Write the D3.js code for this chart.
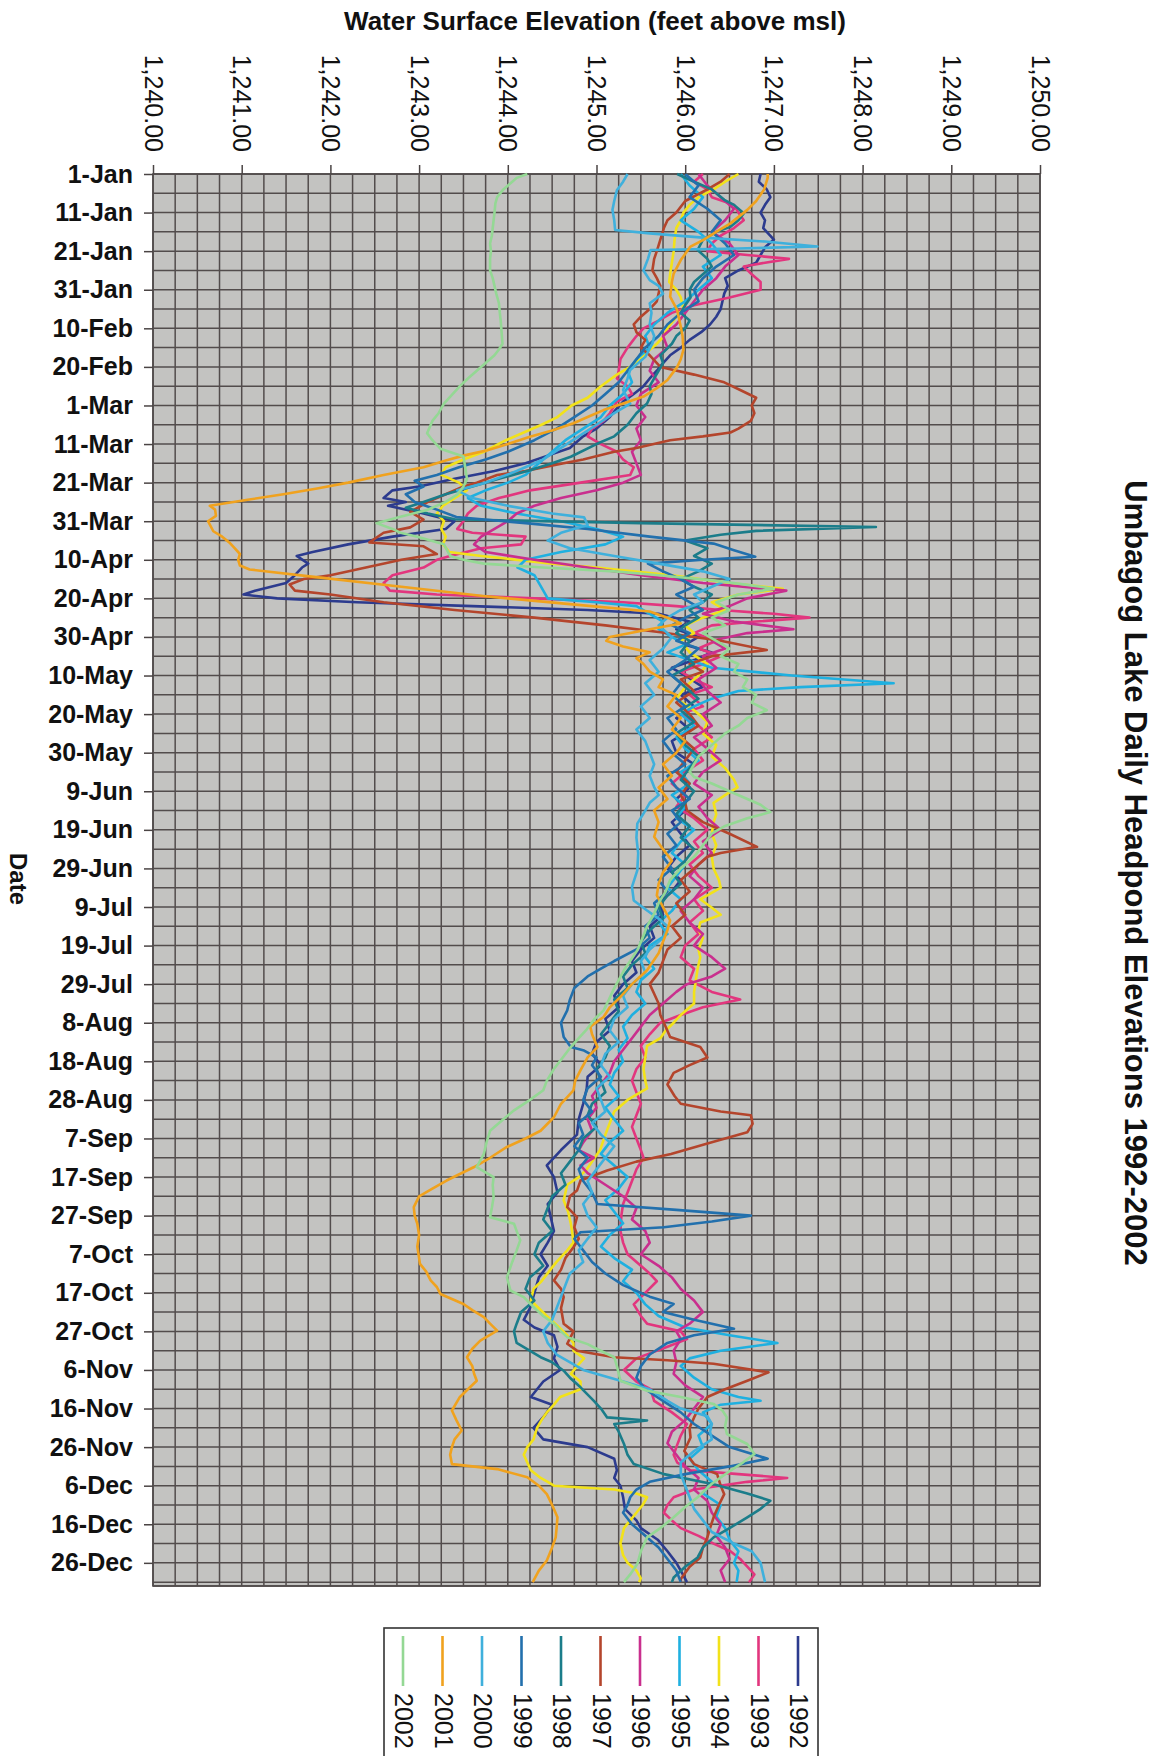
<!DOCTYPE html>
<html lang="en">

<head>
  <meta charset="utf-8" />
  <title>Umbagog Lake Daily Headpond Elevations 1992-2002</title>
  <style>
    body {
      margin: 0;
      background: #fff;
      font-family: "Liberation Sans", Arial, Helvetica, sans-serif;
    }

    .plot-bg {
      fill: #c3c3c1;
      stroke: #4a4444;
      stroke-width: 1.6px;
    }

    .grid-line {
      stroke: #524c4c;
      stroke-width: 1.5px;
    }

    .axis path {
      display: none;
    }

    .axis line {
      stroke: #4a4444;
      stroke-width: 1.5px;
    }

    .xaxis text {
      font-size: 25px;
      fill: #111;
    }

    .yaxis text {
      font-size: 25px;
      font-weight: bold;
      fill: #111;
    }

    .series-line {
      fill: none;
      stroke-width: 2.6px;
      stroke-linejoin: round;
    }

    .axis-title {
      font-weight: bold;
      fill: #111;
    }

    .legend-box {
      fill: #fff;
      stroke: #333;
      stroke-width: 1.6px;
    }

    .legend-text {
      font-size: 25px;
      fill: #111;
    }
  </style>
</head>

<body>
  <script src="https://cdn.jsdelivr.net/npm/d3@7"></script>
  <script>
    // ---- data: [day of year (0 = 1-Jan), elevation in feet] ----
    var years = [1992, 1993, 1994, 1995, 1996, 1997, 1998, 1999, 2000, 2001, 2002];

    var dateTickLabels = ["1-Jan", "11-Jan", "21-Jan", "31-Jan", "10-Feb", "20-Feb", "1-Mar", "11-Mar", "21-Mar",
      "31-Mar", "10-Apr", "20-Apr", "30-Apr", "10-May", "20-May", "30-May", "9-Jun", "19-Jun", "29-Jun", "9-Jul",
      "19-Jul", "29-Jul", "8-Aug", "18-Aug", "28-Aug", "7-Sep", "17-Sep", "27-Sep", "7-Oct", "17-Oct", "27-Oct",
      "6-Nov", "16-Nov", "26-Nov", "6-Dec", "16-Dec", "26-Dec"];

    var elevationTicks = [1240, 1241, 1242, 1243, 1244, 1245, 1246, 1247, 1248, 1249, 1250];

    var y1992 = [[0,1246.85],[2,1246.83],[4,1246.92],[6,1246.96],[8,1246.9],[10,1246.85],[12,1246.9],[14,1246.88],[17,1247.0],[19,1246.9],[21,1246.85],[23,1246.8],[25,1246.6],[27,1246.45],[29,1246.48],[31,1246.44],[33,1246.42],[35,1246.4],[37,1246.35],[39,1246.28],[41,1246.18],[43,1246.05],[45,1245.95],[47,1245.83],[49,1245.75],[51,1245.68],[53,1245.6],[55,1245.53],[57,1245.42],[59,1245.3],[61,1245.22],[63,1245.15],[66,1245.0],[68,1244.85],[71,1244.7],[73,1244.45],[75,1244.2],[77,1243.85],[79,1243.4],[81,1243.0],[82,1242.7],[84,1242.6],[85,1242.85],[86,1242.65],[88,1243.05],[90,1243.4],[92,1243.3],[94,1242.7],[96,1242.2],[98,1241.8],[99,1241.62],[101,1241.75],[102,1241.68],[104,1241.6],[106,1241.5],[108,1241.15],[109,1241.02],[110,1241.4],[111,1242.3],[112,1243.6],[113,1244.9],[114,1245.7],[116,1246.05],[118,1245.9],[120,1246.15],[122,1246.0],[124,1246.3],[126,1246.1],[128,1245.85],[130,1246.0],[133,1246.2],[135,1245.95],[138,1246.1],[141,1245.9],[144,1246.05],[147,1245.85],[150,1245.9],[153,1246.1],[156,1245.95],[159,1246.05],[162,1245.9],[165,1246.0],[168,1245.85],[171,1245.95],[174,1246.05],[177,1245.9],[180,1245.8],[183,1245.95],[186,1245.85],[189,1245.7],[192,1245.75],[195,1245.6],[198,1245.65],[201,1245.5],[204,1245.4],[207,1245.45],[210,1245.3],[213,1245.2],[216,1245.25],[219,1245.1],[222,1245.15],[225,1245.0],[228,1244.95],[231,1245.05],[234,1244.9],[237,1244.89],[241,1244.85],[245,1244.8],[249,1244.78],[253,1244.6],[257,1244.44],[260,1244.52],[264,1244.56],[267,1244.45],[270,1244.48],[274,1244.52],[277,1244.45],[280,1244.37],[283,1244.45],[286,1244.35],[290,1244.3],[294,1244.25],[297,1244.18],[299,1244.3],[301,1244.52],[304,1244.56],[307,1244.52],[310,1244.59],[313,1244.4],[317,1244.26],[319,1244.5],[322,1244.41],[325,1244.29],[328,1244.4],[330,1244.9],[333,1245.2],[336,1245.23],[338,1245.2],[340,1245.27],[343,1245.3],[346,1245.32],[349,1245.45],[351,1245.5],[354,1245.69],[357,1245.8],[360,1245.9],[362,1245.95],[365,1246.02]];

    var y1993 = [[0,1246.2],[2,1246.1],[4,1246.25],[6,1246.3],[8,1246.55],[10,1246.6],[12,1246.66],[14,1246.55],[16,1246.4],[18,1246.3],[20,1246.25],[21,1246.7],[22,1247.17],[23,1246.9],[24,1246.66],[26,1246.75],[28,1246.85],[30,1246.85],[32,1246.5],[34,1246.1],[36,1245.85],[38,1245.7],[40,1245.53],[42,1245.45],[45,1245.35],[48,1245.27],[51,1245.25],[53,1245.23],[55,1245.35],[57,1245.4],[59,1245.23],[62,1245.15],[64,1245.08],[66,1244.95],[68,1244.9],[70,1245.05],[72,1245.23],[74,1245.3],[76,1245.42],[78,1245.38],[80,1244.82],[82,1244.25],[84,1243.9],[86,1243.65],[88,1243.55],[90,1243.5],[92,1243.43],[93,1243.6],[94,1244.2],[96,1244.15],[97,1243.7],[99,1243.35],[100,1243.2],[102,1243.05],[104,1242.7],[106,1242.6],[108,1242.67],[109,1243.2],[110,1244.3],[111,1245.3],[112,1245.9],[113,1246.4],[114,1247.0],[115,1247.4],[116,1246.8],[117,1246.3],[119,1246.1],[121,1246.35],[123,1246.15],[125,1246.4],[127,1246.2],[129,1245.95],[131,1246.1],[133,1246.3],[135,1246.05],[138,1246.2],[140,1245.95],[143,1246.15],[146,1246.3],[149,1246.1],[152,1246.2],[155,1246.0],[158,1245.85],[161,1246.0],[164,1245.9],[167,1246.1],[170,1246.25],[173,1246.1],[176,1246.2],[179,1246.05],[182,1246.15],[185,1246.3],[188,1246.1],[191,1246.2],[194,1246.05],[197,1246.15],[200,1246.0],[203,1245.95],[206,1246.1],[209,1246.05],[212,1246.3],[214,1246.62],[216,1246.2],[218,1245.95],[220,1245.72],[223,1245.6],[226,1245.5],[229,1245.55],[232,1245.45],[235,1245.4],[238,1245.45],[241,1245.5],[244,1245.45],[247,1245.4],[250,1245.45],[253,1245.5],[255,1245.53],[258,1245.45],[261,1245.4],[264,1245.35],[267,1245.3],[270,1245.28],[274,1245.27],[277,1245.3],[280,1245.35],[283,1245.5],[285,1245.6],[287,1245.68],[290,1245.55],[293,1245.42],[296,1245.5],[298,1245.57],[300,1245.95],[302,1246.02],[304,1245.8],[307,1245.45],[310,1245.31],[313,1245.45],[315,1245.61],[318,1245.65],[321,1245.85],[324,1246.02],[327,1245.95],[330,1245.9],[332,1245.87],[334,1245.91],[336,1246.06],[337,1246.6],[338,1247.15],[339,1246.7],[341,1246.1],[343,1245.87],[345,1245.8],[347,1245.76],[349,1245.85],[351,1245.95],[353,1246.15],[355,1246.32],[357,1246.51],[359,1246.62],[361,1246.7],[363,1246.78],[365,1246.72]];

    var y1994 = [[0,1246.6],[2,1246.45],[4,1246.32],[6,1246.15],[8,1246.05],[10,1245.98],[12,1245.95],[14,1245.9],[17,1245.88],[20,1245.87],[23,1245.85],[26,1245.83],[28,1245.82],[30,1245.9],[32,1245.95],[35,1245.98],[37,1245.9],[40,1245.8],[42,1245.76],[44,1245.68],[47,1245.53],[50,1245.38],[52,1245.23],[55,1245.05],[58,1244.9],[60,1244.72],[63,1244.56],[65,1244.38],[67,1244.18],[69,1243.98],[72,1243.73],[74,1243.5],[76,1243.3],[78,1243.25],[80,1243.45],[82,1243.54],[84,1243.4],[86,1243.27],[88,1243.2],[90,1243.28],[92,1243.25],[94,1243.3],[96,1243.27],[98,1243.34],[99,1243.7],[101,1244.5],[102,1245.0],[104,1245.85],[106,1246.5],[107.5,1247.1],[109,1246.6],[111,1246.3],[113,1246.45],[115,1246.2],[117,1246.0],[119,1246.1],[121,1245.95],[124,1246.05],[127,1246.25],[130,1246.15],[133,1246.0],[136,1245.9],[139,1246.1],[142,1246.25],[145,1246.2],[148,1246.35],[151,1246.3],[154,1246.45],[157,1246.55],[159,1246.59],[161,1246.45],[163,1246.32],[166,1246.35],[168,1246.32],[171,1246.3],[174,1246.35],[177,1246.3],[180,1246.32],[183,1246.38],[185,1246.4],[187,1246.25],[188,1246.17],[190,1246.29],[192,1246.4],[194,1246.17],[196,1246.15],[198,1246.2],[201,1246.15],[203,1246.17],[206,1246.14],[209,1246.12],[212,1246.1],[215,1246.1],[218,1245.95],[220,1245.87],[222,1245.78],[224,1245.72],[226,1245.57],[229,1245.55],[232,1245.53],[235,1245.55],[237,1245.57],[240,1245.35],[243,1245.2],[246,1245.15],[249,1245.1],[253,1245.04],[256,1244.95],[258,1244.89],[260,1244.8],[262,1244.67],[264,1244.65],[266,1244.63],[269,1244.68],[272,1244.71],[275,1244.73],[277,1244.74],[279,1244.67],[282,1244.55],[284,1244.48],[287,1244.38],[289,1244.29],[292,1244.26],[294,1244.35],[296,1244.44],[299,1244.58],[301,1244.67],[303,1244.74],[305,1244.74],[307,1244.86],[309,1244.78],[311,1244.71],[313,1244.82],[315,1244.82],[317,1244.59],[319,1244.52],[321,1244.44],[323,1244.38],[325,1244.33],[328,1244.29],[330,1244.22],[332,1244.18],[334,1244.22],[336,1244.26],[338,1244.37],[339,1244.45],[340,1244.52],[341,1245.2],[342,1245.45],[343,1245.57],[345,1245.52],[347,1245.45],[349,1245.38],[351,1245.31],[353,1245.29],[355,1245.27],[358,1245.3],[360,1245.35],[362,1245.45],[364,1245.5],[365,1245.48]];

    var y1995 = [[0,1245.95],[3,1246.05],[6,1246.2],[9,1246.1],[12,1245.95],[15,1246.15],[18,1246.3],[21,1246.4],[24,1246.2],[27,1246.3],[30,1246.15],[33,1246.0],[36,1245.8],[39,1245.65],[42,1245.55],[45,1245.6],[48,1245.45],[51,1245.35],[54,1245.4],[57,1245.3],[60,1245.15],[63,1245.05],[66,1244.85],[69,1244.65],[72,1244.5],[75,1244.35],[78,1244.2],[80,1244.0],[82,1243.75],[84,1243.55],[86,1243.7],[88,1244.1],[90,1244.6],[92,1245.0],[94,1245.3],[96,1245.1],[98,1244.6],[100,1244.2],[102,1244.11],[104,1244.3],[106,1244.35],[108,1244.4],[110,1244.45],[111,1245.0],[112,1245.45],[114,1245.6],[116,1245.75],[118,1245.7],[120,1245.85],[122,1246.0],[124,1245.8],[126,1246.05],[128,1246.3],[130,1247.2],[132,1248.35],[133,1247.3],[134,1246.6],[136,1246.3],[138,1246.1],[140,1245.95],[143,1246.1],[146,1245.9],[149,1246.0],[152,1246.15],[155,1245.95],[158,1246.05],[161,1245.85],[164,1246.0],[167,1245.9],[170,1246.1],[173,1245.95],[176,1245.85],[179,1246.0],[182,1245.9],[185,1245.8],[188,1245.95],[191,1245.85],[194,1245.7],[197,1245.8],[200,1245.6],[203,1245.55],[206,1245.65],[209,1245.5],[212,1245.45],[215,1245.55],[218,1245.4],[221,1245.3],[224,1245.35],[227,1245.25],[230,1245.3],[233,1245.2],[236,1245.15],[239,1245.25],[242,1245.1],[245,1245.2],[248,1245.3],[251,1245.15],[254,1245.05],[257,1245.2],[260,1245.35],[263,1245.25],[266,1245.1],[269,1245.2],[272,1245.3],[275,1245.15],[278,1245.05],[281,1245.2],[284,1245.4],[287,1245.3],[290,1245.45],[293,1245.55],[296,1245.7],[299,1246.0],[301,1246.5],[303,1247.04],[305,1246.4],[307,1246.05],[309,1245.95],[312,1246.1],[315,1246.3],[317,1246.6],[318,1246.85],[319,1246.4],[321,1246.2],[324,1246.3],[327,1246.15],[330,1246.2],[333,1246.05],[336,1246.15],[339,1246.3],[342,1246.2],[345,1246.4],[348,1246.35],[351,1246.45],[354,1246.5],[357,1246.6],[360,1246.55],[362,1246.6],[365,1246.58]];

    var y1996 = [[0,1246.15],[3,1246.25],[6,1246.4],[9,1246.55],[12,1246.45],[15,1246.3],[18,1246.5],[21,1246.6],[24,1246.45],[27,1246.35],[30,1246.2],[33,1246.1],[36,1246.0],[39,1245.9],[42,1245.75],[45,1245.8],[48,1245.65],[51,1245.6],[54,1245.7],[57,1245.5],[60,1245.45],[63,1245.55],[66,1245.45],[69,1245.5],[72,1245.4],[75,1245.45],[78,1245.5],[80,1245.3],[82,1245.0],[84,1244.6],[86,1244.3],[88,1244.1],[90,1244.0],[92,1243.85],[94,1243.7],[96,1243.62],[98,1243.75],[100,1244.3],[102,1244.9],[104,1245.5],[106,1246.2],[108,1247.14],[110,1246.7],[112,1246.5],[114,1246.2],[116,1246.55],[118,1247.22],[119,1246.7],[121,1246.3],[123,1246.45],[125,1246.2],[128,1246.35],[131,1246.15],[134,1246.25],[137,1246.4],[140,1246.2],[143,1246.3],[146,1246.1],[149,1246.25],[152,1246.4],[155,1246.2],[158,1246.1],[161,1246.3],[164,1246.15],[167,1246.25],[170,1246.4],[173,1246.2],[176,1246.3],[179,1246.15],[182,1246.05],[185,1246.2],[188,1246.1],[191,1245.95],[194,1246.05],[197,1246.2],[200,1246.1],[203,1246.3],[206,1246.45],[208,1246.3],[210,1246.02],[212,1245.9],[215,1245.75],[218,1245.6],[221,1245.5],[224,1245.4],[227,1245.3],[230,1245.2],[233,1245.15],[236,1245.05],[239,1244.95],[242,1245.0],[245,1244.9],[248,1244.95],[251,1244.85],[253,1244.8],[255,1244.97],[257,1244.82],[259,1244.9],[262,1245.1],[265,1245.3],[268,1245.45],[271,1245.4],[274,1245.55],[277,1245.6],[280,1245.5],[283,1245.7],[286,1245.85],[289,1245.95],[292,1246.1],[295,1246.2],[298,1246.05],[300,1245.9],[302,1245.95],[305,1245.87],[308,1245.9],[311,1245.87],[314,1246.0],[317,1246.2],[320,1246.1],[323,1246.0],[326,1245.85],[329,1245.8],[332,1245.9],[335,1246.0],[338,1246.15],[341,1246.1],[344,1246.25],[347,1246.3],[350,1246.4],[353,1246.35],[356,1246.45],[359,1246.5],[362,1246.4],[365,1246.45]];

    var y1997 = [[0,1246.5],[2,1246.4],[4,1246.25],[7,1246.0],[10,1245.9],[12,1245.8],[14,1245.76],[17,1245.72],[20,1245.68],[22,1245.65],[25,1245.63],[27,1245.68],[29,1245.72],[31,1245.7],[33,1245.68],[35,1245.6],[37,1245.5],[39,1245.42],[41,1245.45],[43,1245.55],[45,1245.5],[47,1245.6],[50,1245.72],[52,1246.1],[54,1246.44],[56,1246.62],[58,1246.8],[60,1246.75],[62,1246.78],[64,1246.74],[66,1246.6],[67,1246.51],[68,1246.2],[69,1245.83],[71,1245.45],[72,1245.2],[74,1244.85],[75,1244.63],[77,1244.2],[78,1243.88],[80,1243.65],[81,1243.5],[83,1243.3],[85,1243.1],[87.6,1242.9],[89.6,1243.05],[91.6,1242.9],[93,1242.6],[95.5,1242.44],[96.5,1243.05],[98.5,1243.2],[100,1242.8],[102,1242.4],[104,1242.0],[105,1241.7],[106.4,1241.54],[108,1241.6],[109,1242.0],[111,1242.6],[113,1243.4],[115,1244.3],[117,1245.1],[118.7,1245.7],[121,1246.4],[123.4,1246.92],[125,1246.3],[127,1246.05],[129,1246.2],[131,1245.95],[134,1246.1],[137,1245.9],[140,1246.05],[143,1246.15],[146,1245.95],[149,1246.1],[152,1246.0],[155,1245.9],[158,1246.05],[161,1245.95],[163,1246.0],[165,1246.02],[168,1246.2],[171,1246.5],[174.4,1246.81],[176,1246.4],[177,1246.25],[180,1246.1],[183,1245.95],[186,1246.05],[189,1245.9],[192,1246.0],[195,1245.85],[198,1245.95],[201,1245.8],[204,1245.75],[207,1245.7],[210,1245.6],[212.5,1245.65],[215,1245.7],[218,1245.72],[220,1245.76],[223.7,1245.83],[226.3,1246.17],[229,1246.25],[231,1246.05],[233,1245.87],[236,1245.8],[239,1245.88],[241,1245.95],[243,1246.4],[244,1246.74],[246.2,1246.76],[248.4,1246.7],[251,1246.3],[254,1245.84],[256,1245.45],[258.3,1245.12],[260.9,1244.82],[263.5,1244.78],[265,1244.7],[267.8,1244.67],[270.4,1244.78],[273,1244.75],[276,1244.8],[278.2,1244.74],[281,1244.65],[284,1244.6],[286.8,1244.52],[289,1244.6],[291.1,1244.63],[294,1244.6],[298,1244.63],[300,1244.74],[303.2,1244.67],[305,1244.78],[306.7,1245.2],[307.5,1245.8],[308.4,1246.32],[310.6,1246.94],[312.8,1246.7],[315,1246.45],[317,1246.25],[320,1246.15],[322.3,1246.1],[325,1246.05],[327.5,1246.06],[331,1245.99],[334.4,1246.1],[337,1246.36],[340,1246.4],[342.2,1246.44],[345,1246.38],[348.2,1246.32],[351,1246.28],[353.4,1246.25],[356,1246.2],[358.6,1246.17],[361,1246.05],[364.2,1245.95],[365,1245.95]];

    var y1998 = [[0,1245.91],[2,1246.1],[4,1246.3],[6.7,1246.44],[8,1246.55],[10.2,1246.66],[12,1246.6],[13.7,1246.51],[15,1246.35],[17,1246.2],[19.7,1246.14],[22,1246.25],[24,1246.3],[26,1246.2],[28,1246.1],[30,1246.05],[32,1246.06],[34,1246.0],[36,1245.95],[38,1246.05],[40,1246.0],[42,1245.9],[44,1245.85],[47,1245.72],[49,1245.75],[51,1245.7],[53,1245.65],[55,1245.6],[57,1245.62],[59.5,1245.57],[62,1245.45],[65,1245.35],[68,1245.2],[70,1245.0],[73.3,1244.71],[75,1244.5],[76.8,1244.25],[79,1243.9],[81,1243.6],[83,1243.3],[85,1243.05],[86.5,1242.85],[88,1243.1],[89.5,1243.4],[90.5,1245.5],[91.5,1248.15],[92.5,1246.8],[93.5,1246.4],[95,1246.0],[97,1246.25],[99,1246.1],[101,1246.3],[103,1246.15],[105,1245.95],[107,1246.1],[109,1246.3],[111,1246.2],[113,1246.05],[115,1246.15],[117,1246.0],[119,1245.9],[121,1246.05],[124,1245.95],[127,1246.1],[130,1245.85],[133,1246.0],[136,1246.15],[139,1245.95],[142,1246.1],[145,1245.9],[148,1246.0],[151,1246.15],[154,1246.05],[157,1245.95],[160,1246.1],[163,1246.0],[166,1245.9],[169,1246.05],[172,1245.95],[175,1246.1],[178,1246.0],[181,1245.85],[184,1245.95],[187,1245.8],[190,1245.7],[193,1245.75],[196,1245.6],[199,1245.5],[202,1245.55],[205,1245.4],[208,1245.3],[211,1245.35],[214,1245.2],[217,1245.25],[220,1245.15],[223,1245.05],[226,1245.15],[229,1245.1],[232,1245.0],[235,1245.05],[238,1245.1],[241,1244.95],[244,1244.9],[247,1245.0],[250,1244.85],[253,1244.8],[256,1244.7],[259,1244.6],[262,1244.65],[265,1244.5],[268,1244.45],[271,1244.4],[274,1244.5],[277,1244.35],[280,1244.3],[283,1244.4],[286,1244.25],[289,1244.2],[292,1244.3],[295,1244.15],[298,1244.1],[300,1244.07],[303,1244.1],[306.7,1244.37],[308,1244.5],[310.2,1244.63],[312,1244.7],[314.5,1244.82],[318,1244.97],[320,1245.05],[322.3,1245.12],[323.1,1245.57],[324,1245.2],[326,1245.25],[329.2,1245.31],[332,1245.35],[334.4,1245.42],[337,1245.76],[339.6,1246.32],[342,1246.7],[343.9,1246.96],[346,1246.85],[348.2,1246.7],[351,1246.5],[353.4,1246.32],[356,1246.2],[358.6,1246.14],[361,1246.0],[363.8,1245.87],[365,1245.85]];

    var y1999 = [[0,1246.0],[3,1246.15],[6,1246.05],[9,1246.25],[12,1246.4],[15,1246.3],[18,1246.45],[21,1246.55],[24,1246.35],[27,1246.2],[30,1246.1],[33,1246.15],[36,1245.95],[39,1245.8],[42,1245.7],[45,1245.55],[48,1245.45],[51,1245.35],[54,1245.25],[57,1245.1],[60,1244.95],[63,1244.75],[66,1244.55],[69,1244.3],[72,1244.0],[74,1243.75],[76,1243.45],[78,1243.2],[79.5,1242.95],[81,1243.05],[83,1242.85],[85,1242.95],[87,1243.2],[88.9,1243.42],[90.5,1244.2],[92,1244.9],[94,1245.6],[95.8,1246.32],[97.5,1246.55],[99.2,1246.79],[100,1246.2],[101,1245.58],[103,1245.75],[105,1245.95],[107,1246.1],[109,1245.9],[111,1246.05],[113,1246.2],[115,1246.0],[117,1245.85],[119,1246.05],[121,1245.9],[123,1246.15],[126,1246.0],[129,1245.8],[132,1245.95],[135,1245.85],[138,1246.0],[141,1245.8],[144,1245.9],[147,1245.75],[150,1245.85],[153,1246.0],[156,1245.8],[159,1245.9],[162,1246.05],[165,1245.85],[168,1245.95],[171,1245.8],[174,1245.9],[177,1245.75],[180,1245.85],[183,1245.7],[186,1245.8],[189,1245.65],[192,1245.7],[195,1245.55],[198,1245.6],[201,1245.45],[204,1245.2],[206,1245.05],[208,1244.9],[211,1244.75],[214,1244.7],[216.8,1244.67],[220,1244.6],[223.7,1244.63],[226.3,1244.71],[227.2,1244.86],[229,1245.0],[231,1244.95],[234,1245.05],[237,1244.9],[240,1244.85],[243,1244.95],[246,1244.8],[249,1244.85],[252,1244.75],[255,1244.9],[258,1244.8],[261,1244.85],[264,1244.95],[267,1245.01],[268.5,1245.9],[270,1246.74],[271.5,1246.3],[273,1245.76],[274.3,1244.82],[276,1244.75],[279,1244.85],[282,1244.95],[285,1245.1],[288,1245.3],[291,1245.6],[292.9,1245.87],[295,1245.75],[297,1246.1],[299.3,1246.55],[301,1246.1],[303,1245.8],[306,1245.6],[309,1245.5],[312,1245.45],[315,1245.55],[318,1245.75],[321,1245.95],[324,1246.1],[327,1246.3],[330,1246.5],[333,1246.93],[335,1246.5],[337,1246.0],[339,1245.6],[341,1245.45],[343,1245.38],[345,1245.35],[347,1245.3],[350,1245.4],[353,1245.55],[356,1245.7],[359,1245.8],[362,1245.9],[365,1245.95]];

    var y2000 = [[0,1245.35],[2,1245.3],[4.2,1245.23],[7,1245.2],[9.3,1245.18],[12,1245.2],[14.5,1245.21],[15.4,1245.6],[16.5,1246.2],[17.5,1246.9],[18.8,1247.49],[19.3,1246.6],[19.7,1245.61],[22,1245.58],[25,1245.53],[27.5,1245.6],[29,1245.7],[31,1245.75],[33.5,1245.6],[36,1245.62],[39,1245.6],[42,1245.65],[44,1245.63],[47.4,1245.55],[50.8,1245.38],[53,1245.35],[56,1245.3],[59.5,1245.38],[62,1245.2],[65,1245.0],[68,1244.8],[71,1244.6],[74,1244.4],[77,1244.1],[80,1243.75],[82,1243.43],[84,1243.6],[86,1244.0],[88,1244.5],[89,1244.86],[91,1244.9],[93,1244.6],[95,1244.45],[97,1244.7],[99,1245.2],[101,1245.7],[103,1246.2],[105,1246.5],[107,1246.3],[109,1246.1],[111,1246.2],[113,1245.95],[115,1245.8],[117,1245.7],[120,1245.85],[123,1245.75],[126,1245.6],[129,1245.7],[132,1245.55],[135,1245.65],[138,1245.5],[141,1245.6],[144,1245.45],[147,1245.55],[150,1245.6],[153,1245.65],[156,1245.6],[158.9,1245.65],[161,1245.7],[163,1245.6],[165,1245.55],[168.4,1245.46],[172,1245.45],[176,1245.47],[180.5,1245.46],[184.8,1245.4],[188.3,1245.42],[190.9,1245.57],[193,1245.7],[195,1245.8],[198,1245.75],[201,1245.6],[204,1245.5],[207,1245.55],[210,1245.4],[213,1245.3],[216,1245.35],[219,1245.2],[222,1245.15],[225,1245.25],[228,1245.1],[231,1245.05],[234,1245.15],[237,1245.0],[240,1245.05],[243,1245.1],[246,1244.95],[249,1245.05],[252,1245.2],[255,1245.1],[258,1245.0],[261,1244.9],[264,1244.95],[267,1244.85],[270,1244.9],[273,1245.0],[276,1244.9],[279,1244.8],[282,1244.85],[285,1244.7],[288,1244.65],[291,1244.6],[294,1244.55],[297,1244.5],[300,1244.4],[303,1244.45],[306,1244.55],[310,1244.85],[313,1245.3],[315,1245.6],[318,1245.8],[320,1245.95],[322,1246.25],[324,1246.3],[326,1246.28],[328,1246.3],[331,1246.1],[334,1245.95],[337,1245.95],[340,1246.0],[343,1246.05],[346,1246.1],[349,1246.2],[352,1246.3],[355,1246.55],[357,1246.75],[360,1246.85],[363,1246.88],[365,1246.9]];

    var y2001 = [[0,1246.93],[1,1246.93],[4,1246.89],[7,1246.8],[9.3,1246.7],[12.8,1246.51],[15,1246.35],[17,1246.21],[18.8,1246.06],[22.3,1245.95],[25.8,1245.87],[28,1245.85],[31.8,1245.83],[35.3,1245.91],[39.6,1245.95],[42,1245.97],[45.6,1245.98],[48,1245.95],[50,1245.91],[53.4,1245.8],[55.5,1245.68],[57.7,1245.53],[59.5,1245.3],[61.2,1245.08],[63,1244.9],[64.6,1244.74],[66.5,1244.5],[68.1,1244.25],[70,1244.0],[71.6,1243.77],[73,1243.5],[74.2,1243.31],[76,1243.05],[78,1242.6],[80,1242.2],[81.5,1241.85],[83,1241.47],[84.5,1241.05],[86,1240.64],[87,1240.7],[88.6,1240.71],[90,1240.62],[92.6,1240.68],[94,1240.78],[95.5,1240.86],[97,1240.92],[98.5,1240.98],[100,1240.96],[101.5,1240.98],[102.5,1241.09],[104.5,1241.84],[107,1242.8],[109.4,1243.72],[111.5,1244.7],[113.4,1245.6],[115,1245.8],[116.5,1245.95],[118,1245.6],[120,1245.15],[121,1245.11],[122.5,1245.3],[124,1245.6],[125.5,1245.45],[127,1245.53],[129,1245.6],[131,1245.75],[133,1245.7],[135,1245.9],[138,1245.8],[141,1245.95],[144,1245.85],[147,1246.0],[150,1245.9],[153,1245.75],[156,1245.85],[159,1245.7],[162,1245.8],[165,1245.65],[168,1245.7],[171.8,1245.65],[175,1245.75],[178,1245.85],[181,1245.75],[184,1245.7],[187,1245.68],[190,1245.75],[193.5,1245.83],[196,1245.8],[199,1245.75],[202,1245.7],[206.4,1245.57],[210,1245.4],[213.3,1245.27],[216,1245.15],[218.5,1245.08],[221,1244.93],[223,1244.95],[226.3,1245.01],[229,1244.9],[232.3,1244.82],[235,1244.76],[237.5,1244.74],[241,1244.6],[244.5,1244.52],[248,1244.37],[250,1244.2],[252.2,1243.99],[255,1243.8],[257.4,1243.62],[260.9,1243.31],[263,1243.15],[265,1243.0],[267.8,1242.94],[270,1242.95],[272.1,1242.98],[275,1243.0],[278,1242.98],[282.5,1243.01],[284.5,1243.08],[286.8,1243.13],[288.5,1243.2],[290.3,1243.24],[292.9,1243.5],[294.5,1243.6],[296.3,1243.73],[298,1243.8],[299.8,1243.88],[302.4,1243.69],[304.5,1243.6],[306.7,1243.54],[309,1243.6],[311,1243.62],[312.8,1243.65],[315,1243.55],[317,1243.46],[320.5,1243.37],[323,1243.42],[325.7,1243.48],[328,1243.4],[330,1243.37],[332,1243.35],[334.4,1243.37],[335.7,1243.88],[337.8,1244.22],[340,1244.35],[342.2,1244.44],[345,1244.5],[348.2,1244.56],[351,1244.55],[353.4,1244.54],[356,1244.5],[359.4,1244.44],[362,1244.35],[364.6,1244.29],[365,1244.28]];

    var y2002 = [[0,1244.22],[1,1244.1],[2,1244.05],[4,1243.95],[6,1243.88],[7.6,1243.86],[10,1243.85],[12,1243.84],[14,1243.83],[16,1243.82],[18,1243.8],[20,1243.81],[22,1243.8],[25,1243.8],[27,1243.83],[29,1243.85],[31,1243.87],[33.5,1243.9],[36,1243.91],[38,1243.92],[41,1243.93],[44,1243.94],[45.5,1243.9],[47,1243.85],[49,1243.75],[51,1243.65],[53,1243.55],[55,1243.46],[57,1243.38],[59.5,1243.28],[62,1243.22],[64,1243.15],[67.2,1243.09],[69,1243.15],[71.2,1243.24],[73.2,1243.5],[76,1243.52],[79.1,1243.54],[81,1243.5],[83.1,1243.43],[85,1243.3],[87.1,1243.09],[88.8,1242.8],[90.5,1242.52],[92,1242.7],[93,1242.79],[94,1242.98],[96,1243.28],[99,1243.35],[100,1243.5],[101,1243.73],[102,1244.4],[103,1245.2],[104,1245.7],[105.3,1246.3],[106.5,1246.7],[107.5,1247.0],[109,1246.6],[111,1246.35],[113,1246.5],[115,1246.3],[117,1246.45],[119,1246.2],[121,1246.35],[123,1246.5],[125,1246.4],[127,1246.6],[129,1246.55],[131,1246.7],[133,1246.65],[135,1246.8],[137,1246.75],[139,1246.92],[141,1246.7],[143,1246.6],[145,1246.45],[147,1246.35],[149,1246.25],[151,1246.15],[153,1246.1],[155,1246.05],[156.3,1246.1],[158,1246.3],[160,1246.5],[162,1246.7],[163.5,1246.85],[165.4,1246.96],[167,1246.7],[169,1246.45],[171,1246.3],[174,1246.2],[177,1246.1],[180,1245.95],[183,1245.83],[186,1245.78],[189,1245.7],[191.7,1245.65],[195,1245.57],[198,1245.52],[201.2,1245.46],[204,1245.38],[206,1245.32],[208.1,1245.27],[211,1245.2],[214,1245.14],[216.8,1245.08],[219,1244.98],[222,1244.88],[224,1244.8],[226.3,1244.71],[229,1244.62],[232,1244.52],[235,1244.44],[237.5,1244.4],[240,1244.25],[242.7,1244.07],[245,1243.95],[248,1243.8],[251,1243.76],[254,1243.73],[257.4,1243.65],[260,1243.84],[262,1243.83],[265.2,1243.84],[268,1243.82],[270.4,1243.8],[272.1,1244.07],[274,1244.1],[276.4,1244.14],[279,1244.1],[282,1244.05],[286,1243.99],[289.4,1244.03],[291.1,1244.18],[293.7,1244.29],[296,1244.4],[298,1244.52],[300,1244.6],[301.5,1244.67],[303.3,1244.9],[304.5,1245.0],[306.7,1245.2],[309,1245.23],[312.8,1245.27],[315.4,1245.57],[317,1245.95],[318.8,1246.32],[320.5,1246.42],[322.3,1246.47],[324.5,1246.45],[326.6,1246.47],[329.2,1246.7],[331.8,1246.78],[334,1246.65],[336.1,1246.51],[339.5,1246.3],[343,1246.14],[345.5,1246.0],[348.2,1245.87],[351,1245.72],[353.4,1245.57],[357,1245.5],[360.3,1245.46],[363,1245.38],[365,1245.31]];

    var seriesData = [y1992, y1993, y1994, y1995, y1996, y1997, y1998, y1999, y2000, y2001, y2002];

    var seriesColors = ["#2c3b8e", "#e2367e", "#f2e21a", "#1fb0e0", "#c92f8e", "#b4452c",
      "#1b7d8a", "#2270ad", "#3fb0dc", "#f0a21e", "#94d894"];

    // ---- layout ----
    var w = 1166;
    var h = 1756;
    var margin = {
      top: 174,
      right: 126,
      bottom: 170,
      left: 153
    };
    var plotW = w - margin.left - margin.right;
    var plotH = h - margin.top - margin.bottom;

    var svg = d3.select("body")
      .append("svg")
      .attr("width", w)
      .attr("height", h);

    var xScale = d3.scaleLinear()
      .domain([1240, 1250])
      .range([0, plotW]);

    var yScale = d3.scaleLinear()
      .domain([0, 366])
      .range([0, plotH]);

    var plot = svg.append("g")
      .attr("transform", "translate(" + margin.left + "," + margin.top + ")");

    plot.append("rect")
      .attr("class", "plot-bg")
      .attr("x", 0)
      .attr("y", 0)
      .attr("width", plotW)
      .attr("height", plotH);

    // grid: every 0.25 ft and every 5 days
    plot.selectAll(".vgrid")
      .data(d3.range(1240, 1250.01, 0.25))
      .enter()
      .append("line")
      .attr("class", "grid-line")
      .attr("x1", function(d) { return xScale(d); })
      .attr("x2", function(d) { return xScale(d); })
      .attr("y1", 0)
      .attr("y2", plotH);

    plot.selectAll(".hgrid")
      .data(d3.range(0, 366, 5).concat([366]))
      .enter()
      .append("line")
      .attr("class", "grid-line")
      .attr("x1", 0)
      .attr("x2", plotW)
      .attr("y1", function(d) { return yScale(d); })
      .attr("y2", function(d) { return yScale(d); });

    // series
    var line = d3.line()
      .x(function(d) { return xScale(d[1]); })
      .y(function(d) { return yScale(d[0]); });

    plot.selectAll(".series-line")
      .data(seriesData)
      .enter()
      .append("path")
      .attr("class", "series-line")
      .attr("stroke", function(d, i) { return seriesColors[i]; })
      .attr("d", line);

    // top axis (elevation), labels turned to read downwards
    var xAxis = d3.axisTop()
      .scale(xScale)
      .tickValues(elevationTicks)
      .tickFormat(d3.format(",.2f"))
      .tickSize(9);

    plot.append("g")
      .attr("class", "axis xaxis")
      .call(xAxis)
      .selectAll("text")
      .attr("transform", "rotate(90)")
      .attr("x", -22)
      .attr("y", 0)
      .attr("dy", "0.36em")
      .style("text-anchor", "end");

    // left axis (date)
    var yAxis = d3.axisLeft()
      .scale(yScale)
      .tickValues(d3.range(0, 361, 10))
      .tickFormat(function(d, i) { return dateTickLabels[i]; })
      .tickSize(9)
      .tickPadding(11);

    plot.append("g")
      .attr("class", "axis yaxis")
      .call(yAxis);

    // titles
    svg.append("text")
      .attr("class", "axis-title")
      .attr("x", 595)
      .attr("y", 30)
      .attr("text-anchor", "middle")
      .style("font-size", "26px")
      .text("Water Surface Elevation (feet above msl)");

    svg.append("text")
      .attr("class", "axis-title")
      .attr("transform", "translate(18,879) rotate(90)")
      .attr("text-anchor", "middle")
      .attr("dy", "0.35em")
      .style("font-size", "24px")
      .text("Date");

    svg.append("text")
      .attr("class", "axis-title")
      .attr("transform", "translate(1136,873) rotate(90)")
      .attr("text-anchor", "middle")
      .attr("dy", "0.35em")
      .style("font-size", "31px")
      .text("Umbagog Lake Daily Headpond Elevations 1992-2002");

    // legend (turned, newest year on the left)
    var legendYears = years.slice().reverse();
    var legendX = d3.scalePoint()
      .domain(legendYears)
      .range([403, 798]);

    svg.append("rect")
      .attr("class", "legend-box")
      .attr("x", 384)
      .attr("y", 1628)
      .attr("width", 434)
      .attr("height", 150);

    var legend = svg.selectAll(".legend-item")
      .data(legendYears)
      .enter()
      .append("g")
      .attr("class", "legend-item")
      .attr("transform", function(d) { return "translate(" + legendX(d) + ",0)"; });

    legend.append("line")
      .attr("x1", 0)
      .attr("x2", 0)
      .attr("y1", 1636)
      .attr("y2", 1686)
      .attr("stroke-width", 2.6)
      .attr("stroke", function(d) { return seriesColors[years.indexOf(d)]; });

    legend.append("text")
      .attr("class", "legend-text")
      .attr("transform", "translate(1,1693) rotate(90)")
      .attr("dy", "0.36em")
      .text(function(d) { return d; });
  </script>
</body>

</html>
